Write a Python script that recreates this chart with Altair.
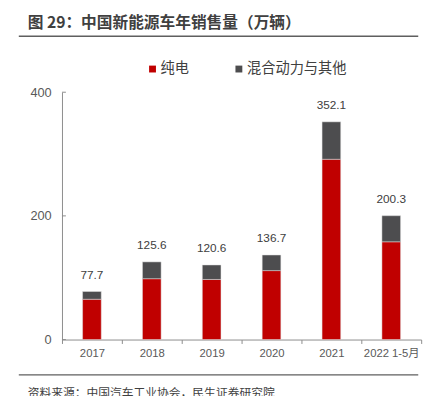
import altair as alt
import pandas as pd

years = ["2017", "2018", "2019", "2020", "2021", "2022 1-5月"]
bev = [65.2, 98.4, 97.2, 111.5, 291.6, 158.1]
hybrid = [12.5, 27.2, 23.4, 25.2, 60.5, 42.2]
totals = [77.7, 125.6, 120.6, 136.7, 352.1, 200.3]
series = ["纯电", "混合动力与其他"]
colors = ["#C00000", "#4D4D4F"]
y_ticks = [0, 200, 400]
title_text = "图 29：中国新能源车年销售量（万辆）"
source_text = "资料来源：中国汽车工业协会，民生证券研究院"

FONT = "Liberation Sans, Arial, Noto Sans CJK SC"
CJK = "Noto Sans CJK SC"

rows = []
for i, y in enumerate(years):
    rows.append({"year": y, "series": series[0], "value": bev[i], "ord": 0})
    rows.append({"year": y, "series": series[1], "value": hybrid[i], "ord": 1})
df = pd.DataFrame(rows)
tot = pd.DataFrame({"year": years, "total": totals})
ticks_df = pd.DataFrame({"v": y_ticks})
one = pd.DataFrame({"t": [title_text]})
src = pd.DataFrame({"t": [source_text]})

xenc = alt.X("year:N", sort=years, title=None,
             scale=alt.Scale(paddingInner=0.0, paddingOuter=0.0),
             axis=alt.Axis(labelAngle=0, tickBand="extent", tickSize=4,
                           tickColor="#8C8C8C", domainColor="#8C8C8C",
                           labelFont=FONT, labelFontSize=11.5, labelColor="#595959",
                           labelPadding=4, grid=False))
yscale = alt.Scale(domain=[0, 400], nice=False)

bars = alt.Chart(df).mark_bar(size=19, stroke="#E0E0E0", strokeWidth=0.5).encode(
    x=xenc,
    y=alt.Y("value:Q", stack="zero", scale=yscale, title=None,
            axis=alt.Axis(values=y_ticks, ticks=False, grid=False, domainColor="#8C8C8C",
                          labelFont=FONT, labelFontSize=13, labelColor="#595959",
                          labelPadding=11)),
    color=alt.Color("series:N", scale=alt.Scale(domain=series, range=colors), title=None,
                    legend=alt.Legend(orient="none", legendX=85, legendY=-31,
                                      direction="horizontal", symbolType="square",
                                      symbolSize=49, symbolStrokeWidth=0,
                                      labelFont=CJK, labelFontSize=14.5,
                                      labelColor="#404040", labelOffset=1,
                                      columnPadding=43, padding=0)),
    order=alt.Order("ord:Q"),
)

labels = alt.Chart(tot).mark_text(dy=-17, baseline="middle", font=FONT,
                                  fontSize=12, color="#404040").encode(
    x=alt.X("year:N", sort=years),
    y=alt.Y("total:Q", scale=yscale),
    text=alt.Text("total:Q", format=".1f"),
)

yt = alt.Chart(ticks_df).mark_rule(color="#8C8C8C", strokeWidth=1).encode(
    y=alt.Y("v:Q", scale=yscale), x=alt.value(0), x2=alt.value(4))

title = alt.Chart(one).mark_text(align="left", baseline="middle", font=CJK,
                                 fontSize=16, fontWeight="bold", color="#404040").encode(
    x=alt.value(-35), y=alt.value(-70), text="t:N")

top_rule = alt.Chart(one).mark_rule(color="#5F5F5F", strokeWidth=1.5).encode(
    x=alt.value(-44), x2=alt.value(363), y=alt.value(-57))

bot_rule = alt.Chart(one).mark_rule(color="#5F5F5F", strokeWidth=1.5).encode(
    x=alt.value(-44), x2=alt.value(363), y=alt.value(288))

source = alt.Chart(src).mark_text(align="left", baseline="middle", font=CJK,
                                  fontSize=12, color="#404040").encode(
    x=alt.value(-35), y=alt.value(307), text="t:N")

chart = alt.layer(bars, labels, yt, title, top_rule, bot_rule, source).properties(
    width=366, height=252,
    autosize=alt.AutoSizeParams(type="none"),
    padding={"left": 55, "top": 82, "right": 10, "bottom": 70},
).configure_view(stroke=None)

chart.save("out.html", embed_options={"renderer": "svg", "actions": False})
